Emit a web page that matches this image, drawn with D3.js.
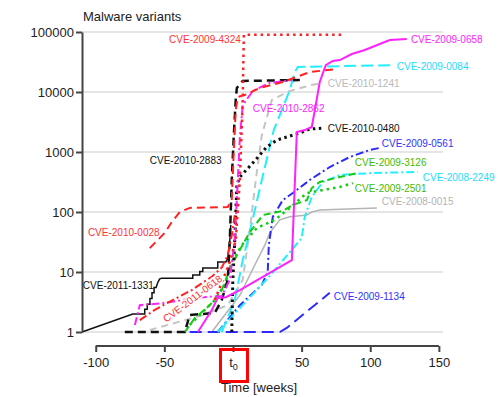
<!DOCTYPE html>
<html>
<head>
<meta charset="utf-8">
<script src="https://cdn.jsdelivr.net/npm/d3@7"></script>
<style>
body { margin: 0; background: #fff; }
text { font-family: "Liberation Sans", Arial, sans-serif; }
</style>
</head>
<body>
<div id="chart"></div>
<script>
// [weeks relative to t0, number of malware variants]
var cve_2009_4324 = [[-13.3,3.4],[-6,8.9],[-2.3,14.7],[2,34],[5,341],[7.1,7360],[7.9,90000],[81.5,90000]];
var cve_2010_0028 = [[-60.6,25],[-49.7,45],[-44.6,68],[-38.8,100],[-31.5,117],[-3.8,121],[-0.9,158],[0.6,1080],[2,5000],[3.5,8250],[8.6,8890],[19.5,11700],[36.3,14700],[55.9,21500],[75.6,24200]];
var cve_2011_0618 = [[-67.9,1.58],[-57,2.33],[-45,3.3],[-30,5],[-15,8.5],[-8,12],[-3.8,19],[-0.9,41],[1.3,89]];
var cve_2011_1331 = [[-110,1],[-73,2],[-64.3,2],[-64.3,2.4],[-62.5,2.4],[-62.5,2.9],[-60.5,2.9],[-60.5,3.6],[-59,3.6],[-59,4.5],[-57.5,4.5],[-57.5,5.5],[-56,5.5],[-55,6.5],[-53.5,7.6],[-52,7.9],[-29.3,7.9],[-29.3,8.9],[-24.2,8.9],[-24.2,10.2],[-22,10.2],[-22,11.7],[-11.1,11.7],[-11.1,14.7],[-5.2,14.7],[-3.8,17.1],[-2.3,34],[-1.6,61]];
var cve_2010_2883 = [[-78.8,1],[-35.1,1],[-31.5,1.92],[-13.3,2.07],[-8.2,3.4],[-3.8,7.4],[-2.3,34],[-0.9,341],[0.6,1920],[2,7360],[2.8,11700],[7.1,15300],[48.7,15800]];
var cve_2010_2862 = [[-71.5,1.31],[-67.9,2.8],[-49.7,3.05],[-27.8,3.7],[-8.2,4],[-2.3,7.4],[1.3,34],[3.5,341],[5,1710],[7.1,6060],[14.4,10400],[26.8,14200],[42.9,15800]];
var cve_2009_0658 = [[-25.6,1],[-15.4,2.33],[-11.1,3.7],[-5.2,3.8],[5,5],[42.9,15.8],[46.5,2150],[52.3,2320],[57.4,2610],[60.3,6060],[63.2,14700],[67.6,28100],[72.7,32900],[77.8,34100],[86.6,42900],[96,50100],[106.9,63100],[114.2,73600],[126.6,76500]];
var cve_2009_0084 = [[-8.2,1],[1.3,3.4],[7.1,15.8],[10.8,34],[21,341],[29.7,2320],[35.6,5000],[41.4,10800],[45,21500],[47.2,26100],[117.9,28100]];
var cve_2008_2249 = [[-11.1,1],[5,2.5],[26.8,8.6],[50.1,37],[52.3,83],[57.4,178],[65.4,316],[77.8,414],[101.9,447],[134.6,464]];
var cve_2010_1241 = [[-60.6,1.08],[-24.2,1.85],[-3.8,2.8],[7.1,7.4],[12.2,50],[16.6,341],[21,1920],[28.3,7360],[41.4,10400],[57.4,13100],[65.4,14200]];
var cve_2010_0480 = [[-0.9,1],[-0.1,7.4],[1.3,34],[2.8,281],[5,383],[14.4,656],[24.6,1210],[31.9,1580],[48.7,2070],[55.9,2410],[66.9,2510]];
var cve_2009_0561 = [[-11.1,1],[5,2.8],[21,6.1],[25.3,10],[26.1,28],[29,83],[36.3,158],[43.6,207],[55.9,341],[70.5,562],[85.1,825],[99.6,1080],[106.9,1170]];
var cve_2009_1134 = [[-31.5,1],[34.1,1],[39.2,1.17],[70.5,4.5]];
var cve_2009_3126 = [[-35.1,1],[-27.8,1.71],[-16.9,2.8],[-8.2,5],[-0.9,13.1],[5,23.4],[12.2,46],[21.7,89],[36.3,104],[43.6,131],[53.8,158],[57.4,251],[63.2,316],[77.8,383],[90.9,447]];
var cve_2009_2501 = [[-31.5,1.31],[-20.5,2.33],[-13.3,3.4],[-6,6.1],[-0.9,14.7],[6.4,28],[17.3,54],[30.5,74],[41.4,117],[53.8,207],[65.4,232],[77.8,261],[87.3,303]];
var cve_2008_0015 = [[-15.4,1],[-6,1.92],[5,4.1],[15.9,13.1],[23.2,28],[26.8,45],[34.1,74],[41.4,83],[53.8,89],[57.4,100],[63.2,108],[104.8,117]];

var yTicks = [1, 10, 100, 1000, 10000, 100000];
var xTicks = [-100, -50, 0, 50, 100, 150];

// line styles and where each label sits (weeks, variants)
var series = [
  {name: "CVE-2008-0015", data: cve_2008_0015, color: "#b4b4b4", text: "#b4b4b4", w: 1.5, dash: null, label: [108.4, 147]},
  {name: "CVE-2010-1241", data: cve_2010_1241, color: "#c4c4c4", text: "#b8b8b8", w: 2, dash: "7,5", label: [69.1, 14100]},
  {name: "CVE-2009-1134", data: cve_2009_1134, color: "#2a2aff", text: "#3030ff", w: 2, dash: "12,6", label: [73.4, 3.98]},
  {name: "CVE-2009-0561", data: cve_2009_0561, color: "#2a2aff", text: "#3030ff", w: 2, dash: "8,3,2,3", label: [108.4, 1360]},
  {name: "CVE-2008-2249", data: cve_2008_2249, color: "#22eeff", text: "#22ddff", w: 2, dash: "8,3,2,3", label: [138.3, 383]},
  {name: "CVE-2009-0084", data: cve_2009_0084, color: "#22eeff", text: "#22ddff", w: 2, dash: "12,5", label: [119.3, 27100]},
  {name: "CVE-2009-2501", data: cve_2009_2501, color: "#11cc11", text: "#44bb00", w: 2.5, dash: "2.5,4", label: [88.7, 251]},
  {name: "CVE-2009-3126", data: cve_2009_3126, color: "#11cc11", text: "#44bb00", w: 2, dash: "7,4", label: [88.7, 656]},
  {name: "CVE-2011-1331", data: cve_2011_1331, color: "#111111", text: "#111111", w: 1.5, dash: null, label: [-109.4, 5.85]},
  {name: "CVE-2010-0480", data: cve_2010_0480, color: "#111111", text: "#111111", w: 3, dash: "2.5,3.5", label: [69.1, 2510]},
  {name: "CVE-2010-2883", data: cve_2010_2883, color: "#111111", text: "#111111", w: 2.5, dash: "8,5", label: [-60.6, 708]},
  {name: "CVE-2010-2862", data: cve_2010_2862, color: "#ff22ff", text: "#ff22ff", w: 2, dash: "8,3,2,3", label: [14.4, 5410]},
  {name: "CVE-2009-0658", data: cve_2009_0658, color: "#ff22ff", text: "#ff22ff", w: 2, dash: null, label: [129.6, 73600]},
  {name: "CVE-2011-0618", data: cve_2011_0618, color: "#ff2222", text: "#ff3333", w: 2, dash: "8,3,2,3", label: [-29.5, 3.6], rotate: -37, anchor: "middle", halo: true},
  {name: "CVE-2010-0028", data: cve_2010_0028, color: "#ff2222", text: "#ff3333", w: 2, dash: "8,5", label: [-105.7, 44.7]},
  {name: "CVE-2009-4324", data: cve_2009_4324, color: "#ff2222", text: "#ff3333", w: 2.5, dash: "2.5,4", label: [5.7, 73600], anchor: "end"}
];

var width = 498, height = 397;

var svg = d3.select("#chart")
  .append("svg")
    .attr("width", width)
    .attr("height", height)
    .style("display", "block");

var x = d3.scaleLinear().domain([-110, 153]).range([82, 443]);
var y = d3.scaleLog().domain([1, 100000]).range([332, 32]);

// grid lines
svg.append("g")
  .selectAll("line")
  .data(yTicks)
  .enter().append("line")
    .attr("x1", x(-110))
    .attr("x2", x(153))
    .attr("y1", function(d) { return y(d); })
    .attr("y2", function(d) { return y(d); })
    .attr("stroke", "#dddddd")
    .attr("stroke-width", 1.5);

// lines
var line = d3.line()
  .x(function(d) { return x(d[0]); })
  .y(function(d) { return y(d[1]); });

svg.append("g")
  .selectAll("path")
  .data(series)
  .enter().append("path")
    .attr("fill", "none")
    .attr("stroke", function(d) { return d.color; })
    .attr("stroke-width", function(d) { return d.w; })
    .attr("stroke-dasharray", function(d) { return d.dash; })
    .attr("d", function(d) { return line(d.data); });

// labels
svg.append("g")
  .selectAll("text")
  .data(series)
  .enter().append("text")
    .attr("transform", function(d) {
      var t = "translate(" + x(d.label[0]) + "," + y(d.label[1]) + ")";
      if (d.rotate) t += " rotate(" + d.rotate + ")";
      return t;
    })
    .attr("dy", "0.35em")
    .attr("text-anchor", function(d) { return d.anchor || "start"; })
    .attr("fill", function(d) { return d.text; })
    .attr("stroke", function(d) { return d.halo ? "#fff" : null; })
    .attr("stroke-width", function(d) { return d.halo ? 3 : null; })
    .attr("paint-order", "stroke")
    .style("font-size", "10px")
    .text(function(d) { return d.name; });

// Y axis
var yAxis = svg.append("g")
  .attr("transform", "translate(" + x(-110) + ",0)")
  .call(d3.axisLeft(y).tickValues(yTicks).tickFormat(d3.format("d")).tickSize(6).tickSizeOuter(0));
yAxis.select(".domain").attr("stroke", "#444").attr("stroke-width", 2);
yAxis.selectAll(".tick line").attr("stroke", "#444").attr("stroke-width", 2);
yAxis.selectAll(".tick text")
  .attr("x", -8)
  .style("font-size", "13px")
  .style("font-family", "'Liberation Sans', Arial, sans-serif")
  .attr("fill", "#222");

// X axis
var xAxis = svg.append("g")
  .attr("transform", "translate(0,346)")
  .call(d3.axisBottom(x).tickValues(xTicks).tickSize(6).tickSizeOuter(0));
xAxis.select(".domain").remove();
xAxis.append("line")
  .attr("x1", x(-100))
  .attr("x2", x(150))
  .attr("stroke", "#444")
  .attr("stroke-width", 2);
xAxis.selectAll(".tick line").attr("stroke", "#444").attr("stroke-width", 2);
xAxis.selectAll(".tick text")
  .attr("y", 12)
  .style("font-size", "13px")
  .style("font-family", "'Liberation Sans', Arial, sans-serif")
  .attr("fill", "#222")
  .text(function(d) { return d === 0 ? null : d; });

// t0 label with red box
var t0 = xAxis.selectAll(".tick").filter(function(d) { return d === 0; }).select("text");
t0.append("tspan").text("t");
t0.append("tspan").attr("dy", "3").style("font-size", "9px").text("0");
svg.append("rect")
  .attr("x", x(0) - 12.5)
  .attr("y", 349.5)
  .attr("width", 27)
  .attr("height", 32)
  .attr("fill", "none")
  .attr("stroke", "#ff0000")
  .attr("stroke-width", 3);

// axis titles
svg.append("text")
  .attr("x", 83)
  .attr("y", 21)
  .style("font-size", "13px")
  .attr("fill", "#222")
  .text("Malware variants");

svg.append("text")
  .attr("x", 259)
  .attr("y", 392)
  .attr("text-anchor", "middle")
  .style("font-size", "13px")
  .attr("fill", "#222")
  .text("Time [weeks]");
</script>
</body>
</html>
